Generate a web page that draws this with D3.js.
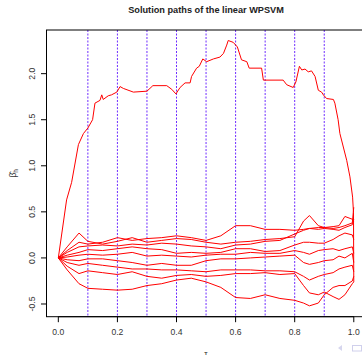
<!DOCTYPE html>
<html>
<head>
<meta charset="utf-8">
<script src="https://cdn.jsdelivr.net/npm/d3@7"></script>
<style>
  body { margin: 0; background: #fff; }
  svg { display: block; font-family: "Liberation Sans", Arial, sans-serif; }
</style>
</head>
<body>
<div id="chart"></div>
<script>
// tau grid shared by the small coefficient paths
const tauGrid = [0, .03, .07, .1, .15, .2, .25, .3, .35, .4, .45, .5, .55, .6, .65, .7, .75, .8, .83, .85, .88, .9, .93, .95, .97, .995, 1];

const smallPaths = [
  [0, .08, .17, .15, .17, .22, .19, .21, .22, .24, .22, .19, .24, .35, .35, .31, .31, .30, .31, .32, .33, .33, .34, .35, .45, .42, .40],
  [0, .12, .27, .18, .15, .18, .22, .17, .19, .21, .20, .17, .15, .17, .18, .20, .21, .23, .40, .46, .35, .33, .32, .33, .35, .38, .55],
  [0, .06, .12, .13, .14, .13, .15, .14, .16, .15, .13, .12, .10, .14, .15, .18, .19, .26, .30, .32, .31, .32, .31, .30, .33, .36, .42],
  [0, .03, .06, .09, .08, .10, .12, .10, .09, .05, .06, .05, .06, .10, .10, .07, .08, .14, .17, .17, .16, .16, .20, .24, .27, .25, .20],
  [0, .01, .03, .04, .03, .04, .06, .02, .03, .02, .01, .03, .04, .04, .06, .05, .05, .08, .06, .04, .08, .09, .10, .08, .10, .12, .05],
  [0, -.02, -.03, -.01, -.01, -.03, -.05, -.08, -.06, -.08, -.08, -.03, -.01, -.01, 0, .01, .02, .03, -.05, -.07, -.05, -.03, -.02, .02, 0, .05, -.05],
  [0, -.05, -.08, -.06, -.08, -.10, -.12, -.12, -.13, -.13, -.14, -.15, -.13, -.13, -.13, -.14, -.14, -.15, -.20, -.24, -.20, -.18, -.16, -.12, -.10, -.08, -.15],
  [0, -.09, -.17, -.14, -.16, -.18, -.15, -.20, -.22, -.19, -.18, -.20, -.19, -.17, -.17, -.16, -.18, -.17, -.30, -.38, -.40, -.37, -.42, -.45, -.40, -.28, -.26],
  [0, -.13, -.28, -.33, -.34, -.35, -.34, -.30, -.28, -.24, -.22, -.26, -.32, -.43, -.44, -.40, -.44, -.46, -.49, -.52, -.49, -.40, -.32, -.30, -.30, -.25, -.20]
];

// the large coefficient, [tau, beta]
const bigPath = [
  [0, 0], [0.028, 0.63], [0.045, 0.82], [0.068, 1.23], [0.085, 1.35], [0.1, 1.41], [0.116, 1.5],
  [0.124, 1.68], [0.141, 1.71], [0.147, 1.77], [0.152, 1.72], [0.169, 1.76], [0.18, 1.77],
  [0.198, 1.80], [0.209, 1.86], [0.22, 1.84], [0.254, 1.80], [0.3, 1.81], [0.32, 1.87],
  [0.367, 1.87], [0.384, 1.83], [0.398, 1.78], [0.412, 1.85], [0.429, 1.90], [0.446, 1.90],
  [0.451, 1.97], [0.468, 2.06], [0.477, 2.08], [0.489, 2.16], [0.502, 2.13], [0.525, 2.16],
  [0.547, 2.18], [0.559, 2.22], [0.570, 2.31], [0.575, 2.36], [0.592, 2.34], [0.606, 2.29],
  [0.62, 2.15], [0.638, 2.13], [0.646, 2.06], [0.688, 2.06], [0.694, 1.93], [0.761, 1.93],
  [0.773, 1.88], [0.795, 1.85], [0.804, 1.91], [0.816, 2.08], [0.824, 2.04], [0.835, 2.05],
  [0.846, 2.02], [0.857, 2.03], [0.869, 1.97], [0.88, 1.82], [0.891, 1.80], [0.897, 1.77],
  [0.908, 1.73], [0.931, 1.72], [0.936, 1.68], [0.947, 1.50], [0.953, 1.35], [0.976, 1.06],
  [0.987, 0.88], [0.996, 0.66], [0.999, 0.49], [1.0, -0.26]
];

const guideTaus = [0.1, 0.2, 0.3, 0.4, 0.5, 0.6, 0.7, 0.8, 0.9];
const xTicks = [0, 0.2, 0.4, 0.6, 0.8, 1.0];
const yTicks = [-0.5, 0, 0.5, 1.0, 1.5, 2.0];

const width = 362, height = 355;
const plot = { left: 46.5, right: 365.6, top: 30, bottom: 316.7 };

const x = d3.scaleLinear().domain([-0.04, 1.04]).range([plot.left, plot.right]);
const y = d3.scaleLinear().domain([-0.638, 2.474]).range([plot.bottom, plot.top]);

const svg = d3.select('#chart').append('svg')
  .attr('width', width)
  .attr('height', height);

svg.append('defs').append('clipPath')
  .attr('id', 'plot-area')
  .append('rect')
  .attr('x', plot.left).attr('y', plot.top)
  .attr('width', plot.right - plot.left).attr('height', plot.bottom - plot.top);

// dotted guides at each tenth of tau
svg.selectAll('.guide')
  .data(guideTaus)
  .enter()
  .append('line')
  .attr('class', 'guide')
  .attr('x1', d => x(d)).attr('x2', d => x(d))
  .attr('y1', plot.top).attr('y2', plot.bottom)
  .attr('stroke', '#6f2dff')
  .attr('stroke-width', 1)
  .attr('stroke-dasharray', '2,1.5');

let line = d3.line()
  .x(d => x(d[0]))
  .y(d => y(d[1]));

let paths = smallPaths.map(vals => vals.map((v, i) => [tauGrid[i], v]));
paths.push(bigPath);

svg.append('g')
  .attr('clip-path', 'url(#plot-area)')
  .selectAll('path')
  .data(paths)
  .enter()
  .append('path')
  .attr('d', line)
  .attr('fill', 'none')
  .attr('stroke', '#ff0000')
  .attr('stroke-width', 1)
  .attr('stroke-linejoin', 'round');

// box (right side falls outside the window)
svg.append('rect')
  .attr('x', plot.left).attr('y', plot.top)
  .attr('width', plot.right - plot.left).attr('height', plot.bottom - plot.top)
  .attr('fill', 'none')
  .attr('stroke', '#000')
  .attr('stroke-width', 1);

// x axis
svg.append('line')
  .attr('x1', x(0)).attr('x2', x(1))
  .attr('y1', plot.bottom).attr('y2', plot.bottom)
  .attr('stroke', '#000');
svg.selectAll('.xtick')
  .data(xTicks)
  .enter()
  .append('line')
  .attr('class', 'xtick')
  .attr('x1', d => x(d)).attr('x2', d => x(d))
  .attr('y1', plot.bottom).attr('y2', plot.bottom + 5.5)
  .attr('stroke', '#000');
svg.selectAll('.xlabel')
  .data(xTicks)
  .enter()
  .append('text')
  .attr('class', 'xlabel')
  .attr('x', d => x(d))
  .attr('y', 335.2)
  .attr('text-anchor', 'middle')
  .attr('font-size', 8.6)
  .attr('fill', '#333')
  .text(d => d.toFixed(1));

// y axis
svg.append('line')
  .attr('x1', plot.left).attr('x2', plot.left)
  .attr('y1', y(-0.5)).attr('y2', y(2))
  .attr('stroke', '#000');
svg.selectAll('.ytick')
  .data(yTicks)
  .enter()
  .append('line')
  .attr('class', 'ytick')
  .attr('x1', plot.left - 5.5).attr('x2', plot.left)
  .attr('y1', d => y(d)).attr('y2', d => y(d))
  .attr('stroke', '#000');
svg.selectAll('.ylabel')
  .data(yTicks)
  .enter()
  .append('text')
  .attr('class', 'ylabel')
  .attr('transform', d => `translate(35.3,${y(d)}) rotate(-90)`)
  .attr('text-anchor', 'middle')
  .attr('font-size', 8.6)
  .attr('fill', '#333')
  .text(d => d.toFixed(1));

// title and axis titles
svg.append('text')
  .attr('x', (plot.left + plot.right) / 2)
  .attr('y', 13.2)
  .attr('text-anchor', 'middle')
  .attr('font-size', 9.2)
  .attr('font-weight', 'bold')
  .attr('fill', '#222')
  .text('Solution paths of the linear WPSVM');

let ylab = svg.append('text')
  .attr('transform', `translate(16,${(plot.top + plot.bottom) / 2}) rotate(-90)`)
  .attr('text-anchor', 'middle')
  .attr('font-size', 8.6)
  .attr('fill', '#333');
ylab.append('tspan').text('\u03B2\u0302');
ylab.append('tspan').attr('font-size', 6.4).attr('dy', 2).text('h');

// x title sits mostly below the window, as in the slide crop
svg.append('text')
  .attr('x', (plot.left + plot.right) / 2)
  .attr('y', 357)
  .attr('text-anchor', 'middle')
  .attr('font-size', 8.6)
  .attr('fill', '#333')
  .text('\u03C4');

// beamer navigation symbols, bottom right
svg.append('path')
  .attr('d', 'M342,345 L342,351 L338,348 Z')
  .attr('fill', '#d6d6ee');
svg.append('rect')
  .attr('x', 352.5).attr('y', 345.5)
  .attr('width', 9).attr('height', 5.5)
  .attr('fill', 'none')
  .attr('stroke', '#d0d0ec')
  .attr('stroke-width', 1);
</script>
</body>
</html>
